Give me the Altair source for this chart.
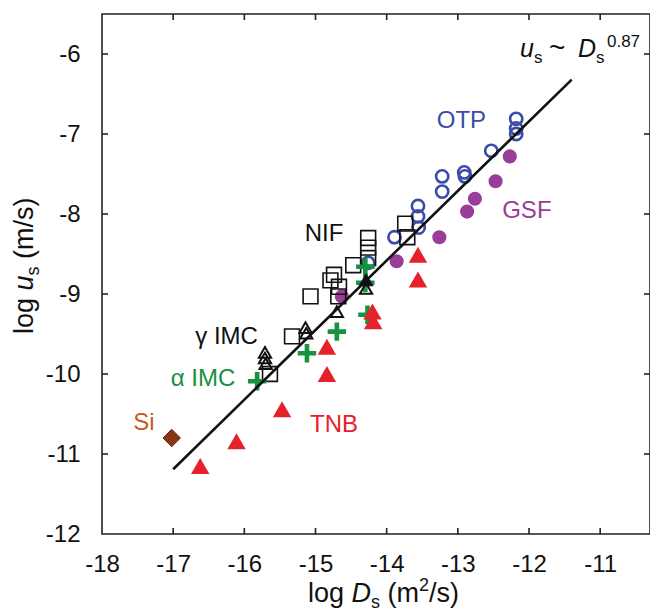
import altair as alt
import pandas as pd

# ---------------- data ----------------
otp_x = [-12.18, -12.18, -12.18, -12.53, -12.91, -12.90, -13.22, -13.22, -13.56, -13.56, -13.55, -13.89, -14.26]
otp_y = [-6.81, -6.93, -7.00, -7.21, -7.48, -7.53, -7.53, -7.72, -7.90, -8.03, -8.17, -8.29, -8.61]

gsf_x = [-12.27, -12.47, -12.76, -12.87, -13.26, -13.86, -14.63]
gsf_y = [-7.28, -7.59, -7.81, -7.97, -8.29, -8.59, -9.03]

nif_x = [-14.26, -14.26, -14.26, -14.47, -14.74, -14.79, -14.67, -14.68, -15.07, -15.33, -15.64, -13.74, -13.71]
nif_y = [-8.30, -8.42, -8.55, -8.64, -8.76, -8.83, -8.91, -9.03, -9.03, -9.53, -10.00, -8.12, -8.29]

gimc_x = [-15.71, -15.71, -15.70, -15.14, -15.13, -14.70, -14.29]
gimc_y = [-9.73, -9.80, -9.87, -9.42, -9.49, -9.22, -8.93]
gimc_fill_x = [-14.29]
gimc_fill_y = [-8.82]

aimc_x = [-15.82, -15.12, -14.70, -14.27, -14.30, -14.30]
aimc_y = [-10.09, -9.74, -9.47, -9.26, -8.66, -8.86]

tnb_x = [-16.62, -16.11, -15.47, -14.84, -14.84, -14.20, -14.19, -13.56, -13.56]
tnb_y = [-11.15, -10.84, -10.44, -10.00, -9.66, -9.22, -9.34, -8.51, -8.82]

si_x = [-17.02]
si_y = [-10.80]

fit_x = [-17.0, -11.4]
fit_y = [-11.19, -6.32]

label_text = ["OTP", "GSF", "NIF", "\u03b3 IMC", "\u03b1 IMC", "TNB", "Si"]
label_x = [-12.95, -12.03, -14.88, -16.25, -16.58, -14.74, -17.41]
label_y = [-6.93, -8.05, -8.34, -9.62, -10.15, -10.73, -10.70]
label_color = ["#3b4ba8", "#993d99", "#111111", "#111111", "#17923f", "#e52229", "#c8581e"]

eq_x = [-12.127]
eq_y = [-6.04]

x_ticks = [-18, -17, -16, -15, -14, -13, -12, -11]
y_ticks = [-12, -11, -10, -9, -8, -7, -6]
x_domain = [-18, -10.3]
y_domain = [-12, -5.5]

# ---------------- chart ----------------
W, H = 548, 520
TL = 6  # inward tick length
FONT = "Liberation Sans, Arial, Helvetica, sans-serif"

xs = alt.Scale(domain=x_domain, nice=False, zero=False)
ys = alt.Scale(domain=y_domain, nice=False, zero=False)


def df(xv, yv):
    return pd.DataFrame({"x": xv, "y": yv})


def enc(xax=None, yax=None):
    return dict(x=alt.X("x:Q", scale=xs, axis=xax), y=alt.Y("y:Q", scale=ys, axis=yax))


lab_expr = "'-' + abs(datum.value)"

x_main = alt.Axis(orient="bottom", values=x_ticks, labelExpr=lab_expr, ticks=False, domain=False,
                  grid=False, labelFontSize=24, labelFont=FONT, labelColor="#111", labelPadding=18,
                  labelFlush=False, labelOverlap=False, title=None)
y_main = alt.Axis(orient="left", values=y_ticks, labelExpr=lab_expr, ticks=False, domain=False,
                  grid=False, labelFontSize=24, labelFont=FONT, labelColor="#111", labelPadding=22,
                  labelFlush=False, labelOverlap=False, title=None)

layers = []

layers.append(alt.Chart(df(gsf_x, gsf_y)).mark_point(shape="circle", filled=True, size=200,
              fill="#993d99", opacity=1, strokeWidth=0).encode(**enc()))
layers.append(alt.Chart(df(otp_x, otp_y)).mark_point(shape="circle", filled=False, size=150,
              stroke="#3b4ba8", strokeWidth=2.6, opacity=1).encode(**enc()))
layers.append(alt.Chart(df(nif_x, nif_y)).mark_point(shape="square", filled=False, size=220,
              stroke="#111", strokeWidth=1.6, opacity=1).encode(**enc()))
PLUS = "M-1,-0.25H1V0.25H-1Z M-0.25,-1H0.25V1H-0.25Z"
layers.append(alt.Chart(df(aimc_x, aimc_y)).mark_point(shape=PLUS, filled=True, size=340,
              fill="#17923f", opacity=1, strokeWidth=0).encode(**enc()))
layers.append(alt.Chart(df(gimc_x, gimc_y)).mark_point(shape="triangle-up", filled=False, size=150,
              stroke="#111", strokeWidth=2.0, opacity=1).encode(**enc()))
layers.append(alt.Chart(df(gimc_fill_x, gimc_fill_y)).mark_point(shape="triangle-up", filled=True,
              size=230, fill="#111", opacity=1, strokeWidth=0).encode(**enc()))
layers.append(alt.Chart(df(tnb_x, tnb_y)).mark_point(shape="triangle-up", filled=True, size=340,
              fill="#e52229", opacity=1, strokeWidth=0).encode(**enc()))
layers.append(alt.Chart(df(si_x, si_y)).mark_point(shape="diamond", filled=True, size=300,
              fill="#8a3515", stroke="#5a200a", strokeWidth=1, opacity=1).encode(**enc()))

# regression line with the main axes
layers.append(alt.Chart(df(fit_x, fit_y)).mark_line(color="#111", strokeWidth=2.6).encode(
    **enc(x_main, y_main)))

# inward tick marks on all four sides
xt = pd.DataFrame({"v": x_ticks[1:]})
yt = pd.DataFrame({"v": y_ticks[1:]})
tick_style = dict(color="#222", strokeWidth=1.6)
layers.append(alt.Chart(xt).mark_rule(**tick_style).encode(
    x=alt.X("v:Q", scale=xs, axis=None), y=alt.value(H), y2=alt.value(H - TL)))
layers.append(alt.Chart(xt).mark_rule(**tick_style).encode(
    x=alt.X("v:Q", scale=xs, axis=None), y=alt.value(0), y2=alt.value(TL)))
layers.append(alt.Chart(yt).mark_rule(**tick_style).encode(
    y=alt.Y("v:Q", scale=ys, axis=None), x=alt.value(0), x2=alt.value(TL)))
layers.append(alt.Chart(yt).mark_rule(**tick_style).encode(
    y=alt.Y("v:Q", scale=ys, axis=None), x=alt.value(W), x2=alt.value(W - TL)))

# series labels
lab_df = pd.DataFrame({"x": label_x, "y": label_y, "t": label_text, "c": label_color})
layers.append(alt.Chart(lab_df).mark_text(fontSize=24, font=FONT, align="center",
              baseline="alphabetic").encode(**enc(), text="t:N", color=alt.Color("c:N", scale=None)))

# equation  u_s ~ D_s^0.87
eq_df = df(eq_x, eq_y)
eq_parts = [("u", 25, "italic", 0, 0), ("s", 17, "normal", 14, 6), ("~", 28, "normal", 29, 0),
            ("D", 25, "italic", 58, 0), ("s", 17, "normal", 76, 6), ("0.87", 17, "normal", 87, -10)]
for t, fs, st, dx, dy in eq_parts:
    layers.append(alt.Chart(eq_df).mark_text(text=t, fontSize=fs, fontStyle=st, font=FONT, align="left",
                  baseline="alphabetic", dx=dx, dy=dy, color="#111").encode(**enc()))

# axis titles built from text pieces (pixel positions relative to plot area)
one = pd.DataFrame({"a": [0]})


def piece(t, x, y, fs, st="normal", angle=0):
    return alt.Chart(one).mark_text(text=t, fontSize=fs, fontStyle=st, font=FONT, align="left",
                                    baseline="alphabetic", angle=angle, color="#111").encode(
        x=alt.value(x), y=alt.value(y))


TB = 588
layers += [piece("log", 206, TB, 27), piece("D", 249.5, TB, 27, "italic"), piece("s", 269, TB + 6, 18),
           piece("(m", 285.5, TB, 27), piece("2", 317, TB - 11, 18), piece("/s)", 327, TB, 27)]
YX = -69
layers += [piece("log", YX, 320, 27, angle=270), piece("u", YX, 276.5, 27, "italic", angle=270),
           piece("s", YX + 6, 261.5, 18, angle=270), piece("(m/s)", YX, 245, 27, angle=270)]

chart = alt.layer(*layers).resolve_axis(x="independent", y="independent").properties(
    width=W, height=H,
    autosize=alt.AutoSizeParams(type="none"),
    padding={"left": 102, "top": 14, "right": 0, "bottom": 78},
    background="white",
).configure_view(stroke="#222", strokeWidth=1.6)

chart.save("out.html", embed_options={"renderer": "svg", "actions": False})
